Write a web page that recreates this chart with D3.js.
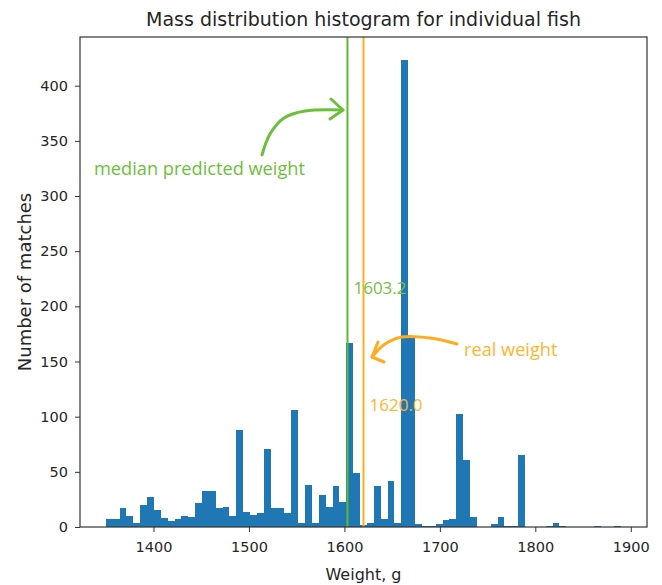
<!DOCTYPE html>
<html>
<head>
<meta charset="utf-8">
<script src="https://cdnjs.cloudflare.com/ajax/libs/d3/7.8.5/d3.min.js"></script>
<style>
  body { margin: 0; background: #fff; }
  .tick text { font-family: 'DejaVu Sans', sans-serif; font-size: 14.5px; fill: #262626; }
  .tick line { stroke: #333; }
</style>
</head>
<body>
<script>
// histogram counts, 75 equal bins between histRange[0] and histRange[1]
let counts = [7, 7, 17, 10, 4, 20, 27, 15, 8, 5,
              7, 10, 9, 22, 33, 33, 17, 18, 10, 88,
              14, 11, 13, 71, 17, 17, 13, 106, 4, 38,
              4, 29, 18, 37, 23, 167, 49, 2, 4, 37,
              7, 42, 4, 423, 171, 3, 1, 1, 3, 6,
              7, 102, 61, 9, 0, 0, 3, 9, 1, 1,
              65, 0, 0, 0, 1, 4, 1, 0, 0, 0,
              0, 1, 0, 0, 1];
let histRange = [1350, 1890];
let xTicks = [1400, 1500, 1600, 1700, 1800, 1900];
let yTicks = [0, 50, 100, 150, 200, 250, 300, 350, 400];
let medianWeight = 1603.2;
let realWeight = 1620.0;

const W = 662, H = 585;
const box = {left: 80, right: 647, top: 37, bottom: 527};

let svg = d3.select('body').append('svg')
  .attr('width', W).attr('height', H)
  .style('font-family', "'DejaVu Sans', sans-serif");

// bin edges of the histogram
let nb = counts.length;
let edges = d3.range(nb + 1).map(i => histRange[0] + i * (histRange[1] - histRange[0]) / nb);

// matplotlib style 5% margins
let span = histRange[1] - histRange[0];
let x = d3.scaleLinear()
  .domain([histRange[0] - 0.05 * span, histRange[1] + 0.05 * span])
  .range([box.left, box.right]);

let y = d3.scaleLinear()
  .domain([0, d3.max(counts) * 1.05])
  .range([box.bottom, box.top]);

// bars
svg.append('g')
  .selectAll('rect')
  .data(counts)
  .enter()
    .append('rect')
    .attr('x', (d, i) => x(edges[i]))
    .attr('width', (d, i) => x(edges[i + 1]) - x(edges[i]))
    .attr('y', d => y(d))
    .attr('height', d => y(0) - y(d))
    .attr('fill', '#1f77b4')
    .attr('shape-rendering', 'crispEdges');

// vertical lines
svg.append('line')
  .attr('x1', x(medianWeight)).attr('x2', x(medianWeight))
  .attr('y1', box.top).attr('y2', box.bottom)
  .attr('stroke', '#5fb832').attr('stroke-width', 2);

svg.append('line')
  .attr('x1', x(realWeight)).attr('x2', x(realWeight))
  .attr('y1', box.top).attr('y2', box.bottom)
  .attr('stroke', '#ffad1f').attr('stroke-width', 2);

// axes
let xAxis = svg.append('g')
  .attr('transform', 'translate(0,' + box.bottom + ')')
  .call(d3.axisBottom(x).tickValues(xTicks).tickFormat(d3.format('d')).tickSize(5).tickPadding(10));
xAxis.select('.domain').remove();

let yAxis = svg.append('g')
  .attr('transform', 'translate(' + box.left + ',0)')
  .call(d3.axisLeft(y).tickValues(yTicks).tickSize(5).tickPadding(7));
yAxis.select('.domain').remove();

// frame
svg.append('rect')
  .attr('x', box.left).attr('y', box.top)
  .attr('width', box.right - box.left).attr('height', box.bottom - box.top)
  .attr('fill', 'none').attr('stroke', '#333').attr('stroke-width', 1.2);

// title and labels
svg.append('text')
  .attr('x', (box.left + box.right) / 2).attr('y', 26)
  .attr('text-anchor', 'middle')
  .attr('font-size', 19).attr('fill', '#262626')
  .text('Mass distribution histogram for individual fish');

svg.append('text')
  .attr('x', (box.left + box.right) / 2).attr('y', 580)
  .attr('text-anchor', 'middle')
  .attr('font-size', 16).attr('fill', '#262626')
  .text('Weight, g');

svg.append('text')
  .attr('transform', 'translate(31,' + (box.top + box.bottom) / 2 + ') rotate(-90)')
  .attr('text-anchor', 'middle')
  .attr('font-size', 18).attr('fill', '#262626')
  .text('Number of matches');

// value labels next to the lines
let note = "'Open Sans', sans-serif";

svg.append('text')
  .attr('x', x(medianWeight) + 6).attr('y', 294)
  .attr('font-family', note).attr('font-size', 17)
  .attr('fill', '#76c043')
  .text(medianWeight.toFixed(1));

svg.append('text')
  .attr('x', x(realWeight) + 6).attr('y', 411)
  .attr('font-family', note).attr('font-size', 17)
  .attr('fill', '#ffb52e')
  .text(realWeight.toFixed(1));

// hand drawn annotations
let curve = d3.line().curve(d3.curveCatmullRom);

svg.append('text')
  .attr('x', 94).attr('y', 175)
  .attr('font-family', note).attr('font-size', 18.2)
  .attr('fill', '#6cbf3a')
  .text('median predicted weight');

svg.append('path')
  .attr('d', curve([[262, 155], [270, 134], [284, 118], [305, 111], [343, 110]]))
  .attr('fill', 'none').attr('stroke', '#6cbf3a').attr('stroke-width', 3)
  .attr('stroke-linecap', 'round');

svg.append('path')
  .attr('d', d3.line()([[331, 99], [343, 110], [330, 119]]))
  .attr('fill', 'none').attr('stroke', '#6cbf3a').attr('stroke-width', 3)
  .attr('stroke-linecap', 'round').attr('stroke-linejoin', 'round');

svg.append('text')
  .attr('x', 464).attr('y', 356)
  .attr('font-family', note).attr('font-size', 18.2)
  .attr('fill', '#ffb52e')
  .text('real weight');

svg.append('path')
  .attr('d', curve([[457, 344], [430, 338], [402, 337], [385, 344], [372, 357]]))
  .attr('fill', 'none').attr('stroke', '#ffad1f').attr('stroke-width', 3)
  .attr('stroke-linecap', 'round');

svg.append('path')
  .attr('d', d3.line()([[378, 342], [372, 357], [384, 362]]))
  .attr('fill', 'none').attr('stroke', '#ffad1f').attr('stroke-width', 3)
  .attr('stroke-linecap', 'round').attr('stroke-linejoin', 'round');
</script>
</body>
</html>
